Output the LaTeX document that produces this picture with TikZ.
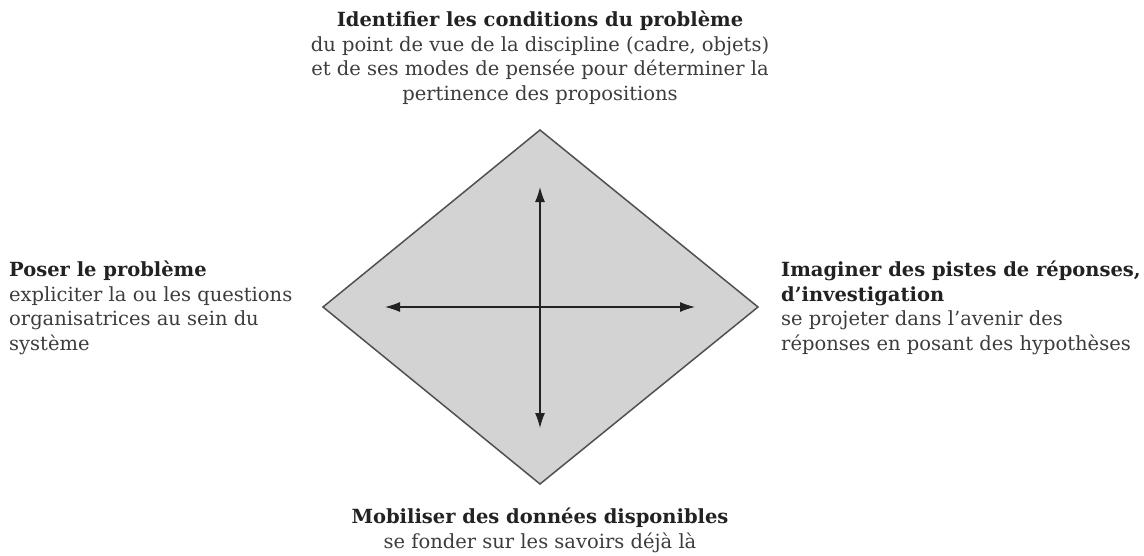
\documentclass[tikz,border=0pt]{standalone}
\usepackage{fontspec}
\setmainfont{DejaVu Serif}
\usetikzlibrary{arrows.meta}
\definecolor{txt}{HTML}{3C3C3C}
\definecolor{ttl}{HTML}{222222}
\definecolor{dfill}{HTML}{D3D3D3}
\definecolor{dline}{HTML}{505050}
\tikzset{
  lbl/.style={inner sep=0pt, text=txt, font=\fontsize{19.5}{24.5}\selectfont},
  arr/.style={line width=1.2pt, draw=ttl, {Latex[length=15pt,width=10pt]}-{Latex[length=15pt,width=10pt]}},
  dia/.style={fill=dfill, draw=dline, line width=1.5pt, line join=miter}
}
\newcommand{\hd}[1]{{\bfseries\color{ttl}#1}}
\begin{document}
\begin{tikzpicture}[x=1pt,y=-1pt]
\useasboundingbox (0,0) rectangle (1144,555);
\coordinate (T) at (540,130);
\coordinate (B) at (540,484);
\coordinate (L) at (323,307);
\coordinate (R) at (758,307);
\coordinate (up) at (540,187);
\coordinate (dn) at (540,428);
\coordinate (lt) at (385,307);
\coordinate (rt) at (695,307);
\draw[dia] (T) -- (R) -- (B) -- (L) -- cycle;
\draw[arr] (up) -- (dn);
\draw[arr] (lt) -- (rt);
\node[lbl, align=center, anchor=north] (top) at (540,11)
  {\hd{Identifier les conditions du problème}\\
   du point de vue de la discipline (cadre, objets)\\
   et de ses modes de pensée pour déterminer la\\
   pertinence des propositions};
\node[lbl, align=left, anchor=north west] (left) at (9,261)
  {\hd{Poser le problème}\\
   expliciter la ou les questions\\
   organisatrices au sein du\\
   système};
\node[lbl, align=left, anchor=north west] (right) at (781,261)
  {\hd{Imaginer des pistes de réponses,}\\
   \hd{d’investigation}\\
   se projeter dans l’avenir des\\
   réponses en posant des hypothèses};
\node[lbl, align=center, anchor=north] (bot) at (540,508)
  {\hd{Mobiliser des données disponibles}\\
   se fonder sur les savoirs déjà là};
\end{tikzpicture}
\end{document}
